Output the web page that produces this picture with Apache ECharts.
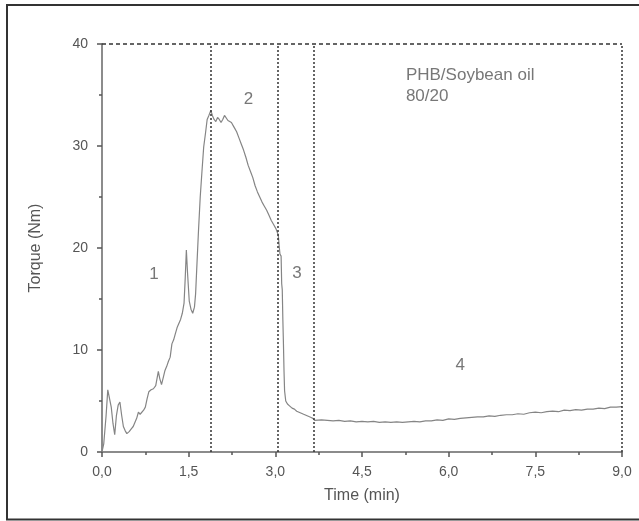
<!DOCTYPE html>
<html><head><meta charset="utf-8">
<script src="https://cdn.jsdelivr.net/npm/echarts@6.0.0/dist/echarts.min.js"></script>
<style>html,body{margin:0;padding:0;background:#fff}#c{width:639px;height:521px}</style>
</head><body><div id="c"></div>
<script>
// Time (min)
const timeMin = [
  0.00,0.03,0.07,0.10,0.13,0.16,0.19,0.22,0.25,0.28,0.31,0.34,0.37,0.40,0.43,0.47,0.51,0.54,0.57,0.60,0.63,0.66,0.69,0.72,0.75,0.78,0.81,0.85,0.89,0.93,0.975,1.00,1.03,1.06,1.09,1.12,1.15,1.18,1.21,1.24,1.27,1.30,1.33,1.36,1.39,1.42,1.44,1.46,1.48,1.51,1.54,1.57,1.60,1.62,1.64,1.67,1.70,1.73,1.76,1.79,1.82,1.85,1.885,
  1.91,1.94,1.97,2.00,2.03,2.06,2.09,2.12,2.15,2.18,2.21,2.24,2.27,2.30,2.33,2.37,2.41,2.45,2.49,2.53,2.57,2.61,2.65,2.69,2.73,2.77,2.81,2.85,2.89,2.93,2.97,3.01,3.05,
  3.07,3.08,3.10,3.11,3.12,3.13,3.14,3.15,3.16,3.18,3.21,3.25,3.29,3.33,3.37,3.41,3.45,3.49,3.53,3.57,3.61,3.65,3.68,3.71,
  3.80,3.90,4.00,4.10,4.20,4.30,4.40,4.50,4.60,4.70,4.80,4.90,5.00,5.10,5.20,5.30,5.40,5.50,5.60,5.70,5.80,5.90,6.00,6.10,6.20,6.30,6.40,6.50,6.60,6.70,6.80,6.90,7.00,7.10,7.20,7.30,7.40,7.50,7.60,7.70,7.80,7.90,8.00,8.10,8.20,8.30,8.40,8.50,8.60,8.70,8.80,8.90,9.00
];
// Torque (Nm)
const torque = [
  0.0,0.8,3.5,6.1,6.0,4.4,2.8,1.7,3.6,4.6,4.9,3.6,2.5,2.1,1.8,2.0,2.3,2.5,2.6,3.3,3.9,3.7,3.6,4.1,4.4,5.2,5.9,6.1,6.2,6.5,7.9,7.2,6.6,7.3,8.0,8.4,8.9,9.3,10.6,11.0,11.6,12.2,12.3,13.0,13.6,14.6,17.0,19.8,17.6,14.8,14.0,13.6,14.2,15.5,18.0,21.7,25.0,27.5,29.9,31.2,32.6,33.0,33.5,
  33.0,32.6,32.4,32.8,32.6,32.3,32.6,33.0,32.9,32.5,32.5,32.3,32.0,31.7,31.4,30.8,30.2,29.6,28.9,28.1,27.5,26.9,26.1,25.5,25.0,24.5,24.1,23.7,23.2,22.7,22.3,21.9,21.3,
  20.0,19.4,19.2,16.5,15.9,13.0,10.7,8.0,6.0,5.0,4.7,4.5,4.3,4.2,4.0,3.9,3.8,3.7,3.6,3.5,3.4,3.3,3.1,3.0,
  3.15,3.10,3.05,3.10,3.00,3.05,2.95,3.00,2.95,3.00,2.90,2.95,2.90,2.95,2.90,2.95,3.00,2.95,3.05,3.05,3.15,3.10,3.25,3.20,3.30,3.35,3.40,3.45,3.45,3.55,3.50,3.60,3.65,3.65,3.75,3.70,3.85,3.90,3.85,3.95,4.00,3.95,4.10,4.05,4.15,4.10,4.20,4.20,4.30,4.25,4.40,4.40,4.45
];
// stage boundaries (min) and top reference line (Nm)
const stageBounds = [1.885, 3.05, 3.67, 9.0];
const topRef = 40;
// stage annotations
const annoText = ['1', '2', '3', '4'];
const annoTime = [0.90, 2.535, 3.375, 6.2];
const annoTorque = [17.45, 34.6, 17.5, 8.5];
// sample annotation
const sampleLines = ['PHB/Soybean oil', '80/20'];
const sampleTime = [5.26, 5.26];
const sampleTorque = [36.96, 34.9];
// axes
const xMin = 0, xMax = 9, xStep = 1.5;
const yMin = 0, yMax = 40, yStep = 10;

const font = '"Liberation Sans", Arial, Helvetica, sans-serif';
const txt = '#555';
const chart = echarts.init(document.getElementById('c'), null, {renderer: 'canvas'});
const curve = timeMin.map((t, i) => [t, torque[i]]);
const markData = stageBounds.map(b => ({xAxis: b}));
markData.push({yAxis: topRef, lineStyle: {type: [4, 3], color: '#333', width: 1.5}});

chart.setOption({
  animation: false,
  backgroundColor: '#fff',
  grid: {left: 102, right: 17, top: 44, bottom: 69},
  graphic: [{
    type: 'rect', shape: {x: 7, y: 5, width: 700, height: 514.5},
    style: {fill: 'none', stroke: '#333', lineWidth: 2}, silent: true, z: -1
  }],
  xAxis: {
    type: 'value', min: xMin, max: xMax, interval: xStep,
    name: 'Time (min)', nameLocation: 'middle', nameGap: 36,
    nameTextStyle: {fontFamily: font, fontSize: 16, color: txt},
    axisLine: {lineStyle: {color: '#666', width: 1.5}},
    axisTick: {length: 5, lineStyle: {color: '#555', width: 1.5}},
    minorTick: {show: true, splitNumber: 2, length: 3, lineStyle: {color: '#555', width: 1.5}},
    splitLine: {show: false},
    axisLabel: {margin: 13, fontFamily: font, fontSize: 14, color: txt,
      formatter: v => v.toFixed(1).replace('.', ',')}
  },
  yAxis: {
    type: 'value', min: yMin, max: yMax, interval: yStep,
    name: 'Torque (Nm)', nameLocation: 'middle', nameGap: 58,
    nameTextStyle: {fontFamily: font, fontSize: 16, color: txt},
    axisLine: {show: true, lineStyle: {color: '#666', width: 1.5}},
    axisTick: {show: true, length: 5, lineStyle: {color: '#555', width: 1.5}},
    minorTick: {show: true, splitNumber: 2, length: 3, lineStyle: {color: '#555', width: 1.5}},
    splitLine: {show: false},
    axisLabel: {margin: 14, fontFamily: font, fontSize: 14, color: txt}
  },
  series: [{
    type: 'line', data: curve, showSymbol: false, smooth: false, z: 3,
    lineStyle: {color: '#858585', width: 1.2},
    markLine: {
      silent: true, symbol: ['none', 'none'], label: {show: false},
      lineStyle: {type: [2, 2], color: '#333', width: 1.5},
      data: markData
    }
  }, {
    type: 'scatter', symbolSize: 0, z: 4,
    data: annoText.map((s, i) => [annoTime[i], annoTorque[i], s]),
    label: {show: true, position: 'inside', formatter: p => p.data[2],
      fontFamily: font, fontSize: 17, color: txt}
  }, {
    type: 'scatter', symbolSize: 0, z: 4,
    data: sampleLines.map((s, i) => [sampleTime[i], sampleTorque[i], s]),
    label: {show: true, position: 'right', distance: 0, align: 'left', verticalAlign: 'middle',
      formatter: p => p.data[2], fontFamily: font, fontSize: 17, color: txt}
  }]
});
</script></body></html>
